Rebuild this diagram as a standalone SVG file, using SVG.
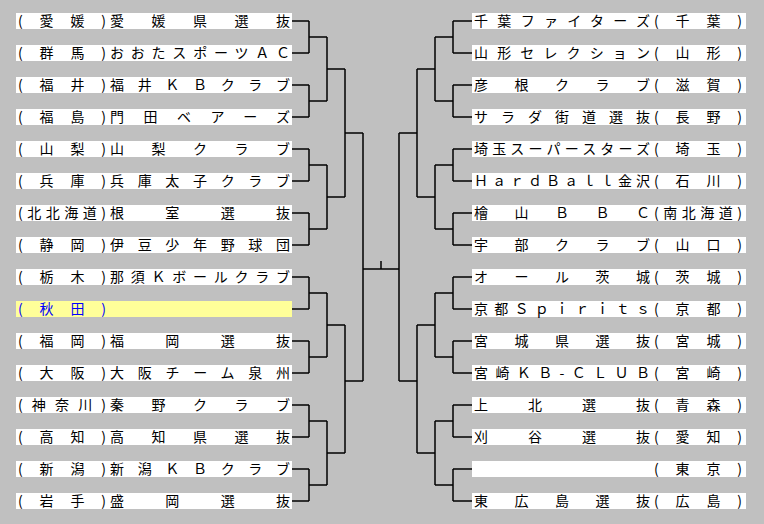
<svg xmlns="http://www.w3.org/2000/svg" width="764" height="524" viewBox="0 0 764 524">
<style>
.b{fill:#fff}
.hl{fill:#ffff99}
text{font-family:"Noto Sans CJK JP","Liberation Sans",sans-serif;font-size:14px;fill:#000}
.blue{fill:#0000ff}
.c path{fill:none;stroke:#000;stroke-width:1.5}
</style>
<rect width="764" height="524" fill="#c0c0c0"/>
<g class="c">
<path d="M292 21H309M292 53H309M309 21V53M309 37H327M292 85H309M292 117H309M309 85V117M309 101H327M327 37V101M327 69H345M292 149H309M292 181H309M309 149V181M309 165H327M292 213H309M292 245H309M309 213V245M309 229H327M327 165V229M327 197H345M345 69V197M345 133H363"/>
<path d="M292 277H309M292 309H309M309 277V309M309 293H327M292 341H309M292 373H309M309 341V373M309 357H327M327 293V357M327 325H345M292 405H309M292 437H309M309 405V437M309 421H327M292 469H309M292 501H309M309 469V501M309 485H327M327 421V485M327 453H345M345 325V453M345 381H363M363 133V381"/>
<path d="M363 269H399M381 261V269"/>
<path d="M472 21H453M472 53H453M453 21V53M453 37H435M472 85H453M472 117H453M453 85V117M453 101H435M435 37V101M435 69H417M472 149H453M472 181H453M453 149V181M453 165H435M472 213H453M472 245H453M453 213V245M453 229H435M435 165V229M435 197H417M417 69V197M417 133H399"/>
<path d="M472 277H453M472 309H453M453 277V309M453 293H435M472 341H453M472 373H453M453 341V373M453 357H435M435 293V357M435 325H417M472 405H453M472 437H453M453 405V437M453 421H435M472 469H453M472 501H453M453 469V501M453 485H435M435 421V485M435 453H417M417 325V453M417 381H399M399 133V381"/>
</g>
<g id="L1"><rect class="b" x="16" y="13" width="276" height="16"/><text x="18" y="26" textLength="88" lengthAdjust="spacing">(愛媛)</text><text x="110" y="26" textLength="180" lengthAdjust="spacing">愛媛県選抜</text></g>
<g id="L2"><rect class="b" x="16" y="45" width="276" height="16"/><text x="18" y="58" textLength="88" lengthAdjust="spacing">(群馬)</text><text x="110" y="58" textLength="180" lengthAdjust="spacing">おおたスポーツＡＣ</text></g>
<g id="L3"><rect class="b" x="16" y="77" width="276" height="16"/><text x="18" y="90" textLength="88" lengthAdjust="spacing">(福井)</text><text x="110" y="90" textLength="180" lengthAdjust="spacing">福井ＫＢクラブ</text></g>
<g id="L4"><rect class="b" x="16" y="109" width="276" height="16"/><text x="18" y="122" textLength="88" lengthAdjust="spacing">(福島)</text><text x="110" y="122" textLength="180" lengthAdjust="spacing">門田ベアーズ</text></g>
<g id="L5"><rect class="b" x="16" y="141" width="276" height="16"/><text x="18" y="154" textLength="88" lengthAdjust="spacing">(山梨)</text><text x="110" y="154" textLength="180" lengthAdjust="spacing">山梨クラブ</text></g>
<g id="L6"><rect class="b" x="16" y="173" width="276" height="16"/><text x="18" y="186" textLength="88" lengthAdjust="spacing">(兵庫)</text><text x="110" y="186" textLength="180" lengthAdjust="spacing">兵庫太子クラブ</text></g>
<g id="L7"><rect class="b" x="16" y="205" width="276" height="16"/><text x="18" y="218" textLength="88" lengthAdjust="spacing">(北北海道)</text><text x="110" y="218" textLength="180" lengthAdjust="spacing">根室選抜</text></g>
<g id="L8"><rect class="b" x="16" y="237" width="276" height="16"/><text x="18" y="250" textLength="88" lengthAdjust="spacing">(静岡)</text><text x="110" y="250" textLength="180" lengthAdjust="spacing">伊豆少年野球団</text></g>
<g id="L9"><rect class="b" x="16" y="269" width="276" height="16"/><text x="18" y="282" textLength="88" lengthAdjust="spacing">(栃木)</text><text x="110" y="282" textLength="180" lengthAdjust="spacing">那須Ｋボールクラブ</text></g>
<g id="L10"><rect class="hl" x="16" y="301" width="276" height="16"/><text class="blue" x="18" y="314" textLength="88" lengthAdjust="spacing">(秋田)</text></g>
<g id="L11"><rect class="b" x="16" y="333" width="276" height="16"/><text x="18" y="346" textLength="88" lengthAdjust="spacing">(福岡)</text><text x="110" y="346" textLength="180" lengthAdjust="spacing">福岡選抜</text></g>
<g id="L12"><rect class="b" x="16" y="365" width="276" height="16"/><text x="18" y="378" textLength="88" lengthAdjust="spacing">(大阪)</text><text x="110" y="378" textLength="180" lengthAdjust="spacing">大阪チーム泉州</text></g>
<g id="L13"><rect class="b" x="16" y="397" width="276" height="16"/><text x="18" y="410" textLength="88" lengthAdjust="spacing">(神奈川)</text><text x="110" y="410" textLength="180" lengthAdjust="spacing">秦野クラブ</text></g>
<g id="L14"><rect class="b" x="16" y="429" width="276" height="16"/><text x="18" y="442" textLength="88" lengthAdjust="spacing">(高知)</text><text x="110" y="442" textLength="180" lengthAdjust="spacing">高知県選抜</text></g>
<g id="L15"><rect class="b" x="16" y="461" width="276" height="16"/><text x="18" y="474" textLength="88" lengthAdjust="spacing">(新潟)</text><text x="110" y="474" textLength="180" lengthAdjust="spacing">新潟ＫＢクラブ</text></g>
<g id="L16"><rect class="b" x="16" y="493" width="276" height="16"/><text x="18" y="506" textLength="88" lengthAdjust="spacing">(岩手)</text><text x="110" y="506" textLength="180" lengthAdjust="spacing">盛岡選抜</text></g>
<g id="R1"><rect class="b" x="472" y="13" width="274" height="16"/><text x="474" y="26" textLength="176" lengthAdjust="spacing">千葉ファイターズ</text><text x="654" y="26" textLength="88" lengthAdjust="spacing">(千葉)</text></g>
<g id="R2"><rect class="b" x="472" y="45" width="274" height="16"/><text x="474" y="58" textLength="176" lengthAdjust="spacing">山形セレクション</text><text x="654" y="58" textLength="88" lengthAdjust="spacing">(山形)</text></g>
<g id="R3"><rect class="b" x="472" y="77" width="274" height="16"/><text x="474" y="90" textLength="176" lengthAdjust="spacing">彦根クラブ</text><text x="654" y="90" textLength="88" lengthAdjust="spacing">(滋賀)</text></g>
<g id="R4"><rect class="b" x="472" y="109" width="274" height="16"/><text x="474" y="122" textLength="176" lengthAdjust="spacing">サラダ街道選抜</text><text x="654" y="122" textLength="88" lengthAdjust="spacing">(長野)</text></g>
<g id="R5"><rect class="b" x="472" y="141" width="274" height="16"/><text x="474" y="154" textLength="176" lengthAdjust="spacing">埼玉スーパースターズ</text><text x="654" y="154" textLength="88" lengthAdjust="spacing">(埼玉)</text></g>
<g id="R6"><rect class="b" x="472" y="173" width="274" height="16"/><text x="474" y="186" textLength="176" lengthAdjust="spacing">ＨａｒｄＢａｌｌ金沢</text><text x="654" y="186" textLength="88" lengthAdjust="spacing">(石川)</text></g>
<g id="R7"><rect class="b" x="472" y="205" width="274" height="16"/><text x="474" y="218" textLength="176" lengthAdjust="spacing">檜山ＢＢＣ</text><text x="654" y="218" textLength="88" lengthAdjust="spacing">(南北海道)</text></g>
<g id="R8"><rect class="b" x="472" y="237" width="274" height="16"/><text x="474" y="250" textLength="176" lengthAdjust="spacing">宇部クラブ</text><text x="654" y="250" textLength="88" lengthAdjust="spacing">(山口)</text></g>
<g id="R9"><rect class="b" x="472" y="269" width="274" height="16"/><text x="474" y="282" textLength="176" lengthAdjust="spacing">オール茨城</text><text x="654" y="282" textLength="88" lengthAdjust="spacing">(茨城)</text></g>
<g id="R10"><rect class="b" x="472" y="301" width="274" height="16"/><text x="474" y="314" textLength="176" lengthAdjust="spacing">京都Ｓｐｉｒｉｔｓ</text><text x="654" y="314" textLength="88" lengthAdjust="spacing">(京都)</text></g>
<g id="R11"><rect class="b" x="472" y="333" width="274" height="16"/><text x="474" y="346" textLength="176" lengthAdjust="spacing">宮城県選抜</text><text x="654" y="346" textLength="88" lengthAdjust="spacing">(宮城)</text></g>
<g id="R12"><rect class="b" x="472" y="365" width="274" height="16"/><text x="474" y="378" textLength="176" lengthAdjust="spacing">宮崎ＫＢ-ＣＬＵＢ</text><text x="654" y="378" textLength="88" lengthAdjust="spacing">(宮崎)</text></g>
<g id="R13"><rect class="b" x="472" y="397" width="274" height="16"/><text x="474" y="410" textLength="176" lengthAdjust="spacing">上北選抜</text><text x="654" y="410" textLength="88" lengthAdjust="spacing">(青森)</text></g>
<g id="R14"><rect class="b" x="472" y="429" width="274" height="16"/><text x="474" y="442" textLength="176" lengthAdjust="spacing">刈谷選抜</text><text x="654" y="442" textLength="88" lengthAdjust="spacing">(愛知)</text></g>
<g id="R15"><rect class="b" x="472" y="461" width="274" height="16"/><text x="654" y="474" textLength="88" lengthAdjust="spacing">(東京)</text></g>
<g id="R16"><rect class="b" x="472" y="493" width="274" height="16"/><text x="474" y="506" textLength="176" lengthAdjust="spacing">東広島選抜</text><text x="654" y="506" textLength="88" lengthAdjust="spacing">(広島)</text></g>
</svg>
